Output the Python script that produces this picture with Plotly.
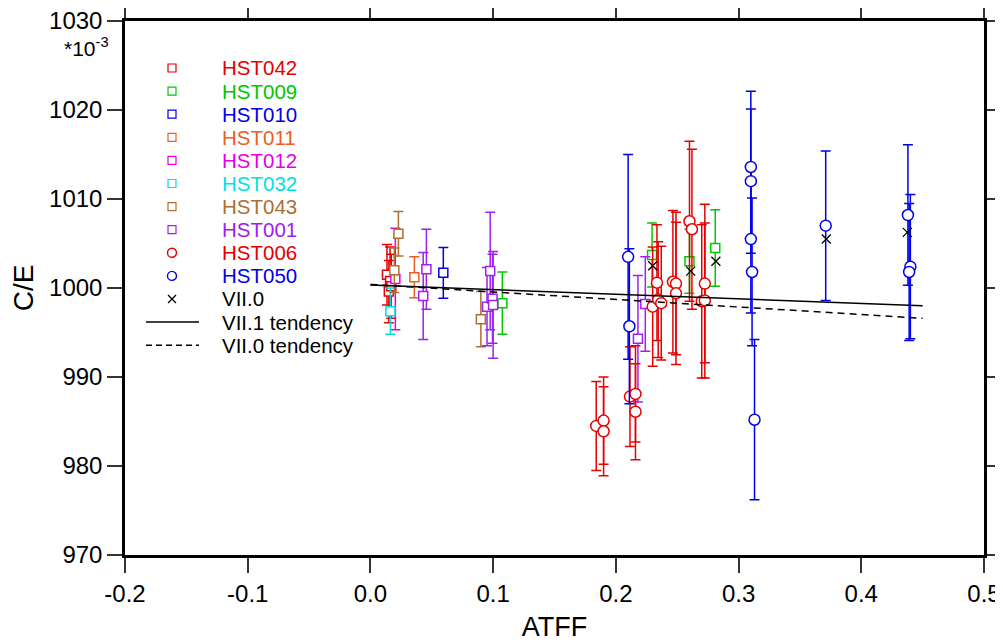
import plotly.graph_objects as go

# ---- data ----
hst042_x = [0.0135, 0.015, 0.016, 0.017]
hst042_y = [1001.5, 999.6, 1000.8, 1000.2]
hst042_e = [3.4, 3.5, 3.8, 3.6]

hst009_x = [0.1075, 0.2295, 0.260, 0.281]
hst009_y = [998.3, 1003.7, 1003.0, 1004.5]
hst009_e = [3.5, 3.6, 3.6, 4.3]

hst010_x = [0.0594]
hst010_y = [1001.7]
hst010_e = [2.85]

hst011_x = [0.0358]
hst011_y = [1001.2]
hst011_e = [2.3]

hst012_x = [0.0203]
hst012_y = [1001.0]
hst012_e = [5.7]

hst032_x = [0.0163]
hst032_y = [997.4]
hst032_e = [2.6]

hst043_x = [0.0195, 0.0228, 0.090]
hst043_y = [1002.0, 1006.1, 996.5]
hst043_e = [2.5, 2.5, 3.1]

hst001_x = [0.043, 0.0456, 0.095, 0.0976, 0.0995, 0.100, 0.218, 0.224]
hst001_y = [999.1, 1002.1, 997.9, 1001.9, 998.8, 998.1, 994.3, 998.2]
hst001_e = [4.9, 4.5, 4.4, 6.6, 5.0, 6.0, 7.1, 5.3]

hst006_x = [0.184, 0.190, 0.190, 0.2115, 0.216, 0.216, 0.230, 0.2335, 0.2345, 0.237,
            0.2465, 0.249, 0.249, 0.260, 0.262, 0.270, 0.2725, 0.2725]
hst006_y = [984.5, 985.1, 983.9, 987.8, 988.1, 986.1, 997.9, 1000.6, 998.7, 998.3,
            1000.7, 1000.5, 999.4, 1007.5, 1006.6, 998.5, 998.6, 1000.5]
hst006_e = [5.0, 4.9, 5.0, 5.6, 5.4, 5.4, 6.7, 6.5, 6.5, 6.4,
            8.0, 8.0, 8.0, 9.0, 9.0, 8.6, 8.7, 8.9]

hst050_x = [0.210, 0.211, 0.310, 0.310, 0.310, 0.311, 0.313, 0.371, 0.438, 0.440, 0.439]
hst050_y = [1003.5, 995.7, 1013.6, 1012.0, 1005.5, 1001.8, 985.2, 1007.0, 1008.2, 1002.4, 1001.8]
hst050_e = [11.5, 8.7, 8.5, 8.1, 8.3, 8.3, 9.0, 8.4, 7.9, 8.1, 7.7]

vii0_x = [0.230, 0.261, 0.2815, 0.3715, 0.4375]
vii0_y = [1002.5, 1001.9, 1003.0, 1005.5, 1006.25]

tend_x = [0.0, 0.45]
tend_vii1_y = [1000.34, 998.0]
tend_vii0_y = [1000.4, 996.6]

x_ticks = [-0.2, -0.1, 0.0, 0.1, 0.2, 0.3, 0.4, 0.5]
y_ticks = [970, 980, 990, 1000, 1010, 1020, 1030]

FONT = "Liberation Sans, Arial, Helvetica, sans-serif"

series = [
    ("HST042", hst042_x, hst042_y, hst042_e, "rgb(230,0,0)", "square"),
    ("HST009", hst009_x, hst009_y, hst009_e, "rgb(0,200,0)", "square"),
    ("HST010", hst010_x, hst010_y, hst010_e, "rgb(0,0,235)", "square"),
    ("HST011", hst011_x, hst011_y, hst011_e, "rgb(235,95,35)", "square"),
    ("HST012", hst012_x, hst012_y, hst012_e, "rgb(230,0,230)", "square"),
    ("HST032", hst032_x, hst032_y, hst032_e, "rgb(0,225,225)", "square"),
    ("HST043", hst043_x, hst043_y, hst043_e, "rgb(175,110,50)", "square"),
    ("HST001", hst001_x, hst001_y, hst001_e, "rgb(160,32,240)", "square"),
    ("HST006", hst006_x, hst006_y, hst006_e, "rgb(230,0,0)", "circle"),
    ("HST050", hst050_x, hst050_y, hst050_e, "rgb(0,0,235)", "circle"),
]

# The page body has an 8px margin, so the figure is drawn 8px in from the
# window's top-left corner; size and margins compensate for that.
OFF = 8
W, H = 1003 - OFF, 642 - OFF
ML, MR, MT, MB = 125 - OFF, 19, 21 - OFF, 87
PW, PH = W - ML - MR, H - MT - MB


def px(xp):
    """window pixel x -> paper coordinate"""
    return (xp - OFF - ML) / PW


def py(yp):
    """window pixel y -> paper coordinate"""
    return (H - MB - (yp - OFF)) / PH


fig = go.Figure()

for name, xs, ys, es, col, sym in series:
    fig.add_trace(go.Scatter(
        x=xs, y=ys, mode="markers", name=name, showlegend=False,
        marker=dict(symbol=sym, size=9 if sym == "square" else 11,
                    color="white", line=dict(color=col, width=1.5)),
        error_y=dict(type="data", array=es, visible=True, color=col,
                     thickness=1.5, width=5),
    ))

fig.add_trace(go.Scatter(
    x=vii0_x, y=vii0_y, mode="markers", name="VII.0", showlegend=False,
    marker=dict(symbol="x-thin", size=9, color="black",
                line=dict(color="black", width=1.3)),
))
fig.add_trace(go.Scatter(
    x=tend_x, y=tend_vii1_y, mode="lines", name="VII.1 tendency", showlegend=False,
    line=dict(color="black", width=1.5),
))
fig.add_trace(go.Scatter(
    x=tend_x, y=tend_vii0_y, mode="lines", name="VII.0 tendency", showlegend=False,
    line=dict(color="black", width=1.5, dash="7px,5px"),
))

# ---- legend (drawn as shapes + annotations) ----
legend_items = [(n, c, s) for n, _, _, _, c, s in series] + [
    ("VII.0", "black", "x"),
    ("VII.1 tendency", "black", "solid"),
    ("VII.0 tendency", "black", "dash"),
]
shapes = []
annotations = []
row0, step = 68, 23.1
mx, tx = 172, 220
for i, (name, col, kind) in enumerate(legend_items):
    yy = py(row0 + i * step)
    common = dict(xref="paper", yref="paper", xsizemode="pixel", ysizemode="pixel",
                  xanchor=px(mx), yanchor=yy)
    if kind == "square":
        shapes.append(dict(type="rect", x0=-4, x1=4, y0=-4, y1=4,
                           line=dict(color=col, width=1.2), **common))
    elif kind == "circle":
        shapes.append(dict(type="circle", x0=-4.5, x1=4.5, y0=-4.5, y1=4.5,
                           line=dict(color=col, width=1.4), **common))
    elif kind == "x":
        shapes.append(dict(type="line", x0=-4, x1=4, y0=-4, y1=4,
                           line=dict(color=col, width=1.2), **common))
        shapes.append(dict(type="line", x0=-4, x1=4, y0=4, y1=-4,
                           line=dict(color=col, width=1.2), **common))
    else:
        shapes.append(dict(type="line", xref="paper", yref="paper",
                           x0=px(146), x1=px(199), y0=yy, y1=yy,
                           line=dict(color=col, width=1.5,
                                     dash="solid" if kind == "solid" else "6px,4px")))
    annotations.append(dict(text=name, xref="paper", yref="paper", x=px(tx), y=yy,
                            xanchor="left", yanchor="middle", showarrow=False,
                            font=dict(family=FONT, size=20.5, color=col)))

annotations.append(dict(
    text="*10<sup>-3</sup>", xref="paper", yref="paper",
    x=px(111), y=py(47), xanchor="right", yanchor="middle",
    showarrow=False, font=dict(family=FONT, size=21, color="black"),
))

axis_common = dict(
    showline=True, linecolor="black", linewidth=2.5, mirror="ticks",
    ticks="outside", ticklen=15, tickwidth=1.5, tickcolor="#333",
    showgrid=False, zeroline=False, automargin=False,
    ticklabeloverflow="allow",
    tickfont=dict(family=FONT, size=24, color="black"),
)

fig.update_layout(
    width=W, height=H,
    margin=dict(l=ML, r=MR, t=MT, b=MB),
    paper_bgcolor="white", plot_bgcolor="white",
    font=dict(family=FONT, color="black"),
    showlegend=False,
    shapes=shapes,
    annotations=annotations,
    xaxis=dict(range=[-0.2, 0.5], tickvals=x_ticks,
               ticktext=[f"{v:.1f}" for v in x_ticks],
               title=dict(text="ATFF", font=dict(family=FONT, size=27), standoff=13),
               **axis_common),
    yaxis=dict(range=[970, 1030], tickvals=y_ticks,
               ticktext=[str(v) for v in y_ticks],
               title=dict(text="C/E", font=dict(family=FONT, size=28), standoff=10),
               **axis_common),
)

fig.write_html("out.html")
